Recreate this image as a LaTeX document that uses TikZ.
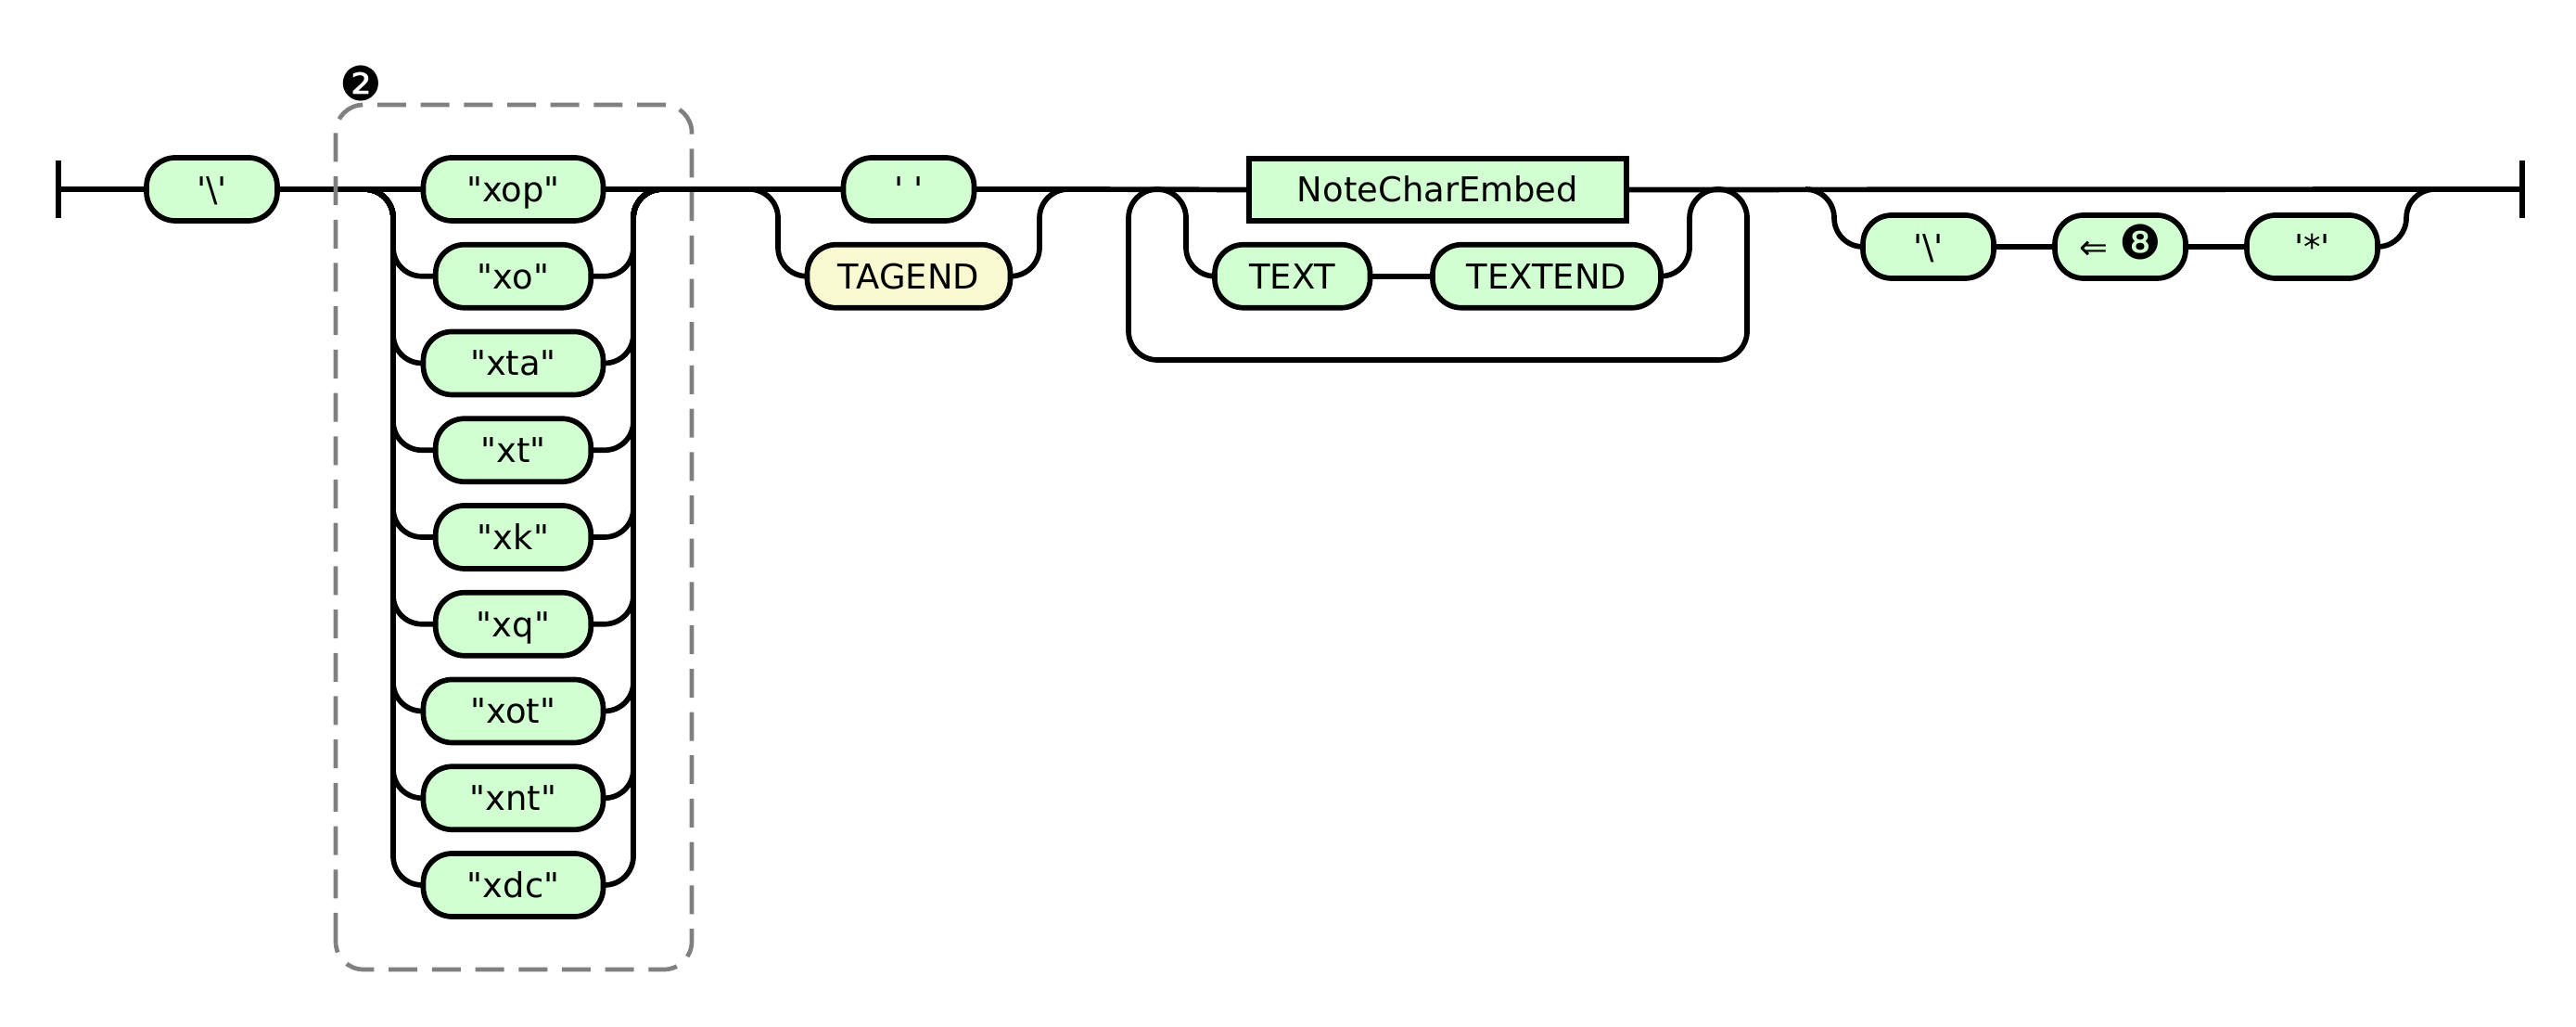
\documentclass[tikz,border=0pt]{standalone}
\usepackage{fontspec}
\setmainfont{DejaVu Sans}
\definecolor{termgreen}{RGB}{210,255,210}
\definecolor{tagyellow}{RGB}{250,250,210}
\definecolor{groupgray}{RGB}{128,128,128}
\newcommand{\bigdingbat}[1]{{\fontsize{14.5}{15}\selectfont #1}}
\tikzset{
	rail/.style={line width=0.057cm, rounded corners=0.31cm},
	endbar/.style={line width=0.057cm},
	term/.style={draw, line width=0.057cm, fill=termgreen, rounded corners=0.31cm, minimum height=0.68cm, inner sep=0pt, text height=0.267cm, text depth=0pt},
	nonterm/.style={term, sharp corners, minimum height=0.67cm},
	groupbox/.style={draw=groupgray, line width=0.047cm, dash pattern=on 0.31cm off 0.157cm, rounded corners=0.3cm},
}

\begin{document}
\begin{tikzpicture}[font=\fontsize{10.5}{12}\selectfont]
		%%%%% START %%%%%
		\useasboundingbox (0,0) rectangle (27.78,11.06);
		
		\coordinate (start) at (0.63,9.02);
		\coordinate (s1) at (3.93,9.02);
		\coordinate (e1) at (7.14,9.02);
		\coordinate (s2) at (8.08,9.02);
		\coordinate (e2) at (11.52,9.02);
		\coordinate (lp1) at (12.48,9.02);
		\coordinate (lp2) at (18.53,9.02);
		\coordinate (os) at (19.47,9.02);
		\coordinate (oe) at (26.26,9.02);
		\coordinate (end) at (27.20,9.02);
		
		\draw[endbar] ([yshift=-0.31cm]start) -- ([yshift=0.31cm]start);
		\draw[endbar] ([yshift=-0.31cm]end) -- ([yshift=0.31cm]end);
		
		\node[term, minimum width=1.41cm] (bs1) at (2.285,9.02) {\textquotesingle\textbackslash\textquotesingle};
		
		% choice of x-codes
		\foreach \lbl/\w [count=\i from 0] in {xop/1.94, xo/1.675, xta/1.94, xt/1.675, xk/1.675, xq/1.675, xot/1.94, xnt/1.94, xdc/1.94}
			\node[term, minimum width=\w cm] (c\i) at (5.535,{9.02-0.9375*\i}) {\textquotedbl\lbl\textquotedbl};
		\foreach \i in {1,...,8} {
			\draw[rail] (s1) -- ++(0.31,0) |- (c\i.west);
			\draw[rail] (c\i.east) -| (6.83,9.02) -- (e1);
		}
		\draw[rail] (start) -- (bs1.west);
		\draw[rail] (bs1.east) -- (c0.west);
		\draw[rail] (c0.east) -- (e1);
		
		% space or TAGEND
		\node[term, minimum width=1.41cm] (sp) at (9.80,9.02) {\textquotesingle\ \textquotesingle};
		\node[term, fill=tagyellow, minimum width=2.19cm] (tagend) at (9.80,8.0825) {TAGEND};
		\draw[rail] (e1) -- (sp.west);
		\draw[rail] (s2) -- ++(0.31,0) |- (tagend.west);
		\draw[rail] (tagend.east) -| (11.21,9.02) -- (e2);
		\draw[rail] (sp.east) -- (e2);
		
		% one or more
		\node[nonterm, minimum width=4.07cm] (nce) at (15.505,9.015) {NoteCharEmbed};
		\node[term, minimum width=1.675cm] (txt) at (13.9375,8.0825) {TEXT};
		\node[term, minimum width=2.46cm] (txtend) at (16.68,8.0825) {TEXTEND};
		\draw[rail] (e2) -- (nce.west);
		\draw[rail] (lp1) -- ++(0.31,0) |- (txt.west);
		\draw[rail] (txt) -- (txtend);
		\draw[rail] (txtend.east) -| (18.22,9.02) -- (lp2);
		\draw[rail] (lp1) -| (12.17,7.18) -| (18.84,9.02) -- (lp2);
		\draw[rail] (nce.east) -- (end);
		
		% optional tail
		\node[term, minimum width=1.41cm] (o1) at (20.795,8.40) {\textquotesingle\textbackslash\textquotesingle};
		\node[term, minimum width=1.41cm] (o2) at (22.865,8.40) {⇐ \bigdingbat{❽}};
		\node[term, minimum width=1.41cm] (o3) at (24.935,8.40) {\textquotesingle*\textquotesingle};
		\draw[rail] (os) -- ++(0.31,0) |- (o1.west);
		\draw[rail] (o1) -- (o2);
		\draw[rail] (o2) -- (o3);
		\draw[rail] (o3.east) -| (25.95,9.02) -- (oe);
		
		% group box
		\draw[groupbox] (3.62,0.61) rectangle (7.46,9.93);
		\node[inner sep=0pt] (grp) at (3.89,10.16) {\bigdingbat{❷}};
		
		%%%%% END %%%%%
	\end{tikzpicture}
\end{document}
